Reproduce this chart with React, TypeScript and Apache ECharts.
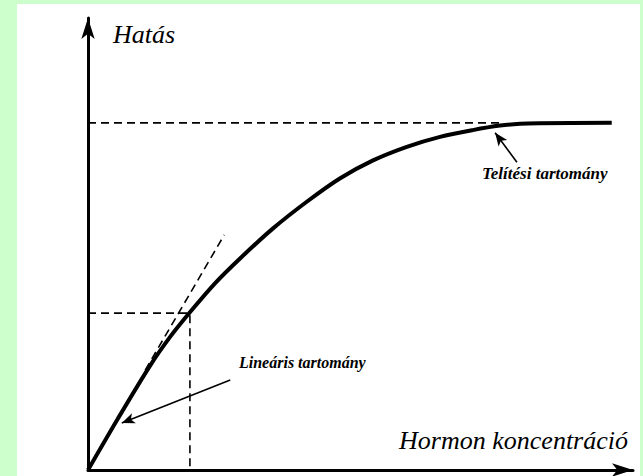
import React, { useEffect, useRef } from "react";
import * as echarts from "echarts";

// Dose–response curve (arbitrary units, 0–100 on both axes)
const concentration = [0, 5.5, 11.4, 15.1, 18.7, 23.3, 27.9, 33.9, 40.2, 46.2, 52.3, 58.5, 64.6, 70.6, 75.6, 79.3, 82.9, 96.1];
const effect = [0, 11.4, 23.1, 29.5, 34.9, 41.3, 46.8, 53.4, 59.4, 64.5, 68.5, 71.5, 73.7, 75.2, 76.2, 76.6, 76.7, 76.8];

// Reference (dashed) lines
const saturationLevel = 76.8;
const saturationReach = 76.1;
const linearPoint = [18.7, 34.7];
const tangentLine = [
  [10.5, 22.1],
  [25.0, 52.0],
];

// Annotation arrows [from, to]
const saturationArrow = [
  [78.7, 68.1],
  [74.7, 74.6],
];
const linearArrow = [
  [26.1, 19.9],
  [6.2, 10.4],
];

const yAxisTitle = "Hatás";
const xAxisTitle = "Hormon koncentráció";
const saturationLabel = "Telítési tartomány";
const linearLabel = "Lineáris tartomány";

export default function App() {
  const ref = useRef<HTMLDivElement>(null);
  useEffect(() => {
    if (!ref.current) return;
    const chart = echarts.init(ref.current, null, { renderer: "svg" });
    const dashed = { color: "#000", width: 1.6, type: [8, 5] as any };
    const curve = concentration.map((x, i) => [x, effect[i]]);
    chart.setOption({
      animation: false,
      backgroundColor: "transparent",
      grid: { left: 88, right: 10, top: 18, bottom: 6 },
      xAxis: {
        type: "value",
        min: 0,
        max: 100,
        axisLine: {
          show: true,
          symbol: ["none", "arrow"],
          symbolSize: [10, 21],
          lineStyle: { color: "#000", width: 3 },
        },
        axisTick: { show: false },
        axisLabel: { show: false },
        splitLine: { show: false },
      },
      yAxis: {
        type: "value",
        min: 0,
        max: 100,
        axisLine: {
          show: true,
          symbol: ["none", "arrow"],
          symbolSize: [10, 21],
          lineStyle: { color: "#000", width: 3 },
        },
        axisTick: { show: false },
        axisLabel: { show: false },
        splitLine: { show: false },
      },
      graphic: [
        {
          type: "rect",
          z: -10,
          shape: { x: 17, y: 4, width: 623, height: 480 },
          style: { fill: "#ffffff" },
          silent: true,
        },
        {
          type: "text",
          x: 113,
          y: 34,
          style: {
            text: yAxisTitle,
            font: "italic 26px 'Liberation Serif'",
            fill: "#000",
            verticalAlign: "middle",
          },
        },
        {
          type: "text",
          x: 628,
          y: 440,
          style: {
            text: xAxisTitle,
            font: "italic 26px 'Liberation Serif'",
            fill: "#000",
            align: "right",
            verticalAlign: "middle",
          },
        },
        {
          type: "text",
          x: 482,
          y: 173,
          style: {
            text: saturationLabel,
            font: "italic bold 17px 'Liberation Serif'",
            fill: "#000",
            verticalAlign: "middle",
          },
        },
        {
          type: "text",
          x: 239,
          y: 362,
          style: {
            text: linearLabel,
            font: "italic bold 16px 'Liberation Serif'",
            fill: "#000",
            verticalAlign: "middle",
          },
        },
      ],
      series: [
        {
          type: "line",
          data: [
            [0, saturationLevel],
            [saturationReach, saturationLevel],
          ],
          symbol: "none",
          lineStyle: dashed,
          z: 1,
        },
        {
          type: "line",
          data: [
            [0, linearPoint[1]],
            [linearPoint[0], linearPoint[1]],
            [linearPoint[0], 0],
          ],
          symbol: "none",
          lineStyle: dashed,
          z: 1,
        },
        {
          type: "line",
          data: tangentLine,
          symbol: "none",
          lineStyle: dashed,
          z: 1,
        },
        {
          type: "line",
          data: curve,
          symbol: "none",
          smooth: 0.3,
          lineStyle: { color: "#000", width: 4 },
          z: 3,
          markLine: {
            silent: true,
            symbol: ["none", "arrow"],
            symbolSize: [8, 13],
            label: { show: false },
            lineStyle: { color: "#000", width: 1.6, type: "solid" },
            data: [
              [{ coord: saturationArrow[0] }, { coord: saturationArrow[1] }],
              [{ coord: linearArrow[0] }, { coord: linearArrow[1] }],
            ],
          },
        },
      ],
    });
    return () => chart.dispose();
  }, []);
  return (
    <div
      style={{
        position: "fixed",
        left: 0,
        top: 0,
        width: 643,
        height: 476,
        background: "#ccffcc",
      }}
    >
      <div ref={ref} style={{ width: 643, height: 476 }} />
    </div>
  );
}
